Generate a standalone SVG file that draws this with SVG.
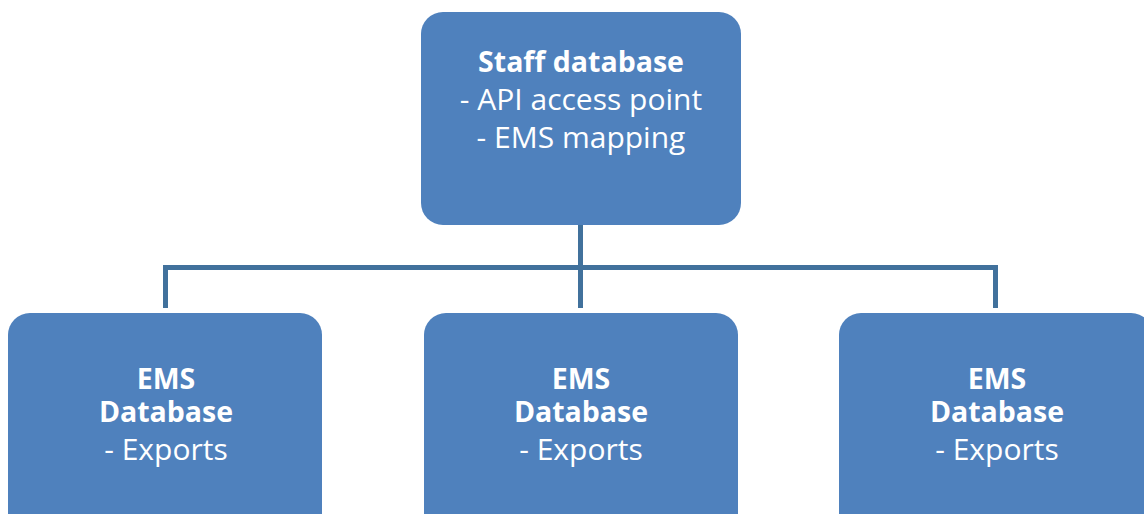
<svg xmlns="http://www.w3.org/2000/svg" width="1144" height="514" viewBox="0 0 1144 514">
<style>
.box{fill:#4F81BD;}
.t{font-family:"Open Sans","Liberation Sans",sans-serif;font-size:30px;fill:#FFFFFF;text-anchor:middle;}
.b{font-weight:bold;font-size:28.5px;}
.c{fill:none;stroke:#41719C;stroke-width:5;}
</style>
<rect width="1144" height="514" fill="#FFFFFF"/>
<g id="connectors">
<path class="c" d="M580.5 225 V308"/>
<path class="c" d="M165.5 308 V267.5 H995.5 V308"/>
</g>
<g id="staff">
<rect class="box" x="421" y="12" width="320" height="213" rx="22"/>
<text class="t b" x="581" y="72">Staff database</text>
<text class="t" x="581" y="110">- API access point</text>
<text class="t" x="581" y="148">- EMS mapping</text>
</g>
<g id="ems1">
<rect class="box" x="8" y="313" width="314" height="230" rx="22"/>
<text class="t b" x="166" y="389">EMS</text>
<text class="t b" x="166" y="422">Database</text>
<text class="t" x="166" y="460">- Exports</text>
</g>
<g id="ems2">
<rect class="box" x="424" y="313" width="314" height="230" rx="22"/>
<text class="t b" x="581" y="389">EMS</text>
<text class="t b" x="581" y="422">Database</text>
<text class="t" x="581" y="460">- Exports</text>
</g>
<g id="ems3">
<rect class="box" x="839" y="313" width="314" height="230" rx="22"/>
<text class="t b" x="997" y="389">EMS</text>
<text class="t b" x="997" y="422">Database</text>
<text class="t" x="997" y="460">- Exports</text>
</g>
</svg>
